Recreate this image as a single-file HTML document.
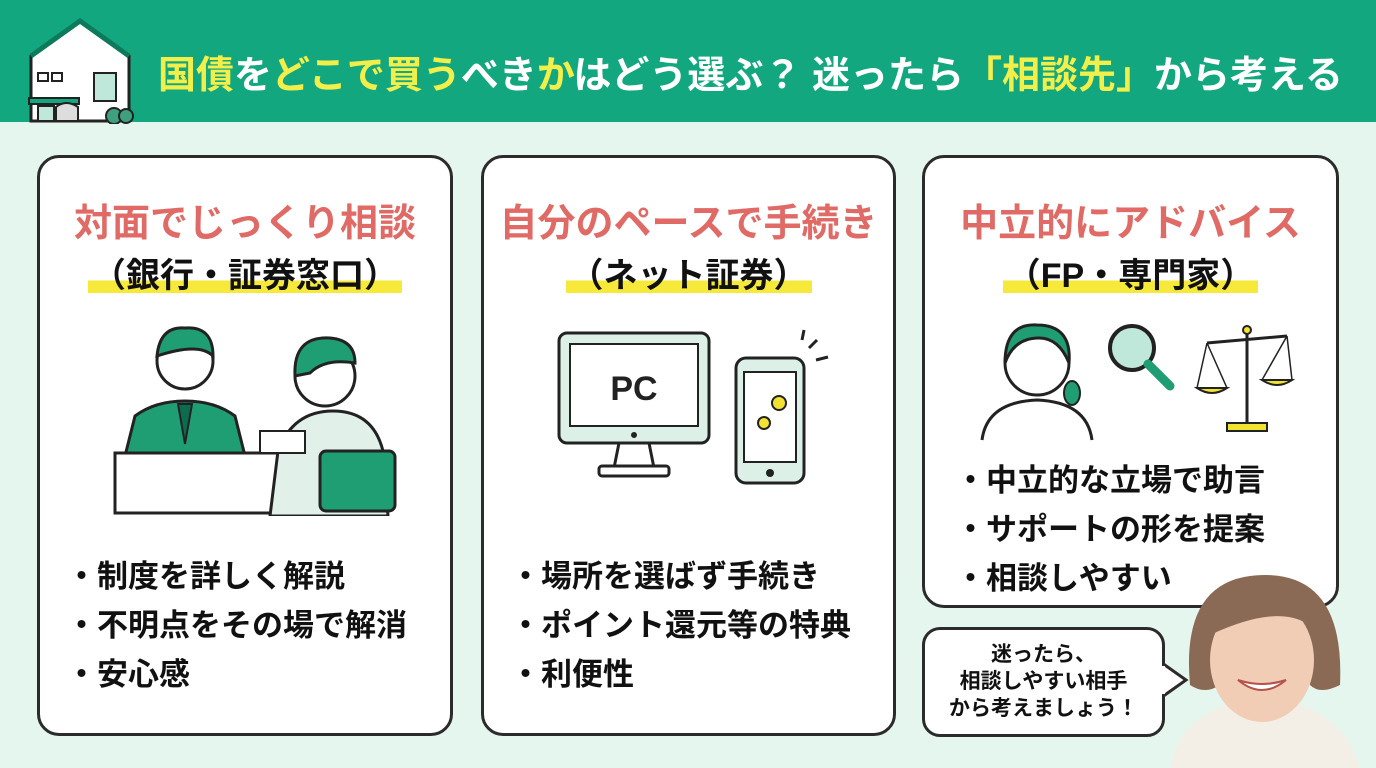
<!DOCTYPE html>
<html><head><meta charset="utf-8"><style>
*{margin:0;padding:0;box-sizing:border-box}
body{width:1376px;height:768px;overflow:hidden;background:#e5f6ee;font-family:"Liberation Sans","Noto Sans CJK JP",sans-serif;position:relative}
.hdr{position:absolute;left:0;top:0;width:1376px;height:122px;background:#12a77e}
.ttl{position:absolute;left:158px;top:44px;font-size:38px;font-weight:bold;color:#fff;white-space:nowrap;letter-spacing:0px}
.y{color:#f2ef4a}
.card{position:absolute;background:#fff;border:3px solid #2b2b2b;border-radius:22px}
.h1{position:absolute;left:0;width:100%;text-align:center;color:#e06a66;font-size:38px;font-weight:bold}
.h2{position:absolute;left:0;width:100%;text-align:center;color:#111;font-size:34px;font-weight:bold}
.h2 span{background:linear-gradient(transparent 62%,#f6e93a 62%,#f6e93a 95%,transparent 95%);padding:0 4px}
.bl{position:absolute;font-size:31px;font-weight:bold;color:#111;line-height:49px;white-space:nowrap}
.bub{position:absolute;left:922px;top:627px;width:243px;height:110px;background:#fff;border:3px solid #2b2b2b;border-radius:18px;text-align:center;font-size:21px;font-weight:bold;line-height:27px;padding-top:11px;color:#111}
</style></head><body>
<div class="hdr"></div>
<svg style="position:absolute;left:26px;top:18px" width="112" height="106" viewBox="0 0 112 106">
<polygon points="5,38 54,3 103,38 103,103 5,103" fill="#fff" stroke="#222" stroke-width="3"/>
<polyline points="5,38 54,3 103,38" fill="none" stroke="#0e7a5c" stroke-width="5"/>
<rect x="12" y="55" width="10" height="8" fill="none" stroke="#222" stroke-width="2"/><rect x="26" y="55" width="10" height="8" fill="none" stroke="#222" stroke-width="2"/>
<rect x="68" y="55" width="22" height="28" fill="#bfe8da" stroke="#222" stroke-width="2"/>
<rect x="3" y="80" width="50" height="6" fill="#12a77e" stroke="#222" stroke-width="2"/>
<rect x="12" y="88" width="16" height="15" fill="#bfe8da" stroke="#222" stroke-width="2"/>
<path d="M30,103 v-14 q10,-8 22,0 v14z" fill="#ddd" stroke="#222" stroke-width="2"/>
<circle cx="88" cy="98" r="8" fill="#3fa07f" stroke="#222" stroke-width="2"/><circle cx="100" cy="98" r="7" fill="#3fa07f" stroke="#222" stroke-width="2"/>
</svg>
<div class="ttl"><span class="y">国債</span>を<span class="y">どこで買う</span>べき<span class="y">か</span>はどう選ぶ？ 迷ったら<span class="y">「相談先」</span>から考える</div>

<div class="card" style="left:37px;top:155px;width:416px;height:581px">
<div class="h1" style="top:34px">対面でじっくり相談</div>
<div class="h2" style="top:90px"><span>（銀行・証券窓口）</span></div>
<svg style="position:absolute;left:70px;top:158px" width="290" height="200" viewBox="0 0 290 200">
<path d="M15,140 l10,-40 q20,-15 50,-15 q30,0 50,15 l10,40z" fill="#1f9e74" stroke="#222" stroke-width="3"/>
<circle cx="75" cy="45" r="28" fill="#fff" stroke="#222" stroke-width="3"/>
<path d="M47,40 q3,-30 28,-28 q28,-2 28,28 q-14,-14 -56,0z" fill="#1f9e74" stroke="#222" stroke-width="3"/>
<path d="M68,88 l7,40 l7,-40z" fill="#0d6b4e" stroke="#222" stroke-width="2"/>
<rect x="5" y="137" width="170" height="60" fill="#fff" stroke="#222" stroke-width="3"/>
<path d="M160,200 l8,-65 q15,-40 55,-40 q40,0 50,40 l5,65z" fill="#e1f1ea" stroke="#222" stroke-width="3"/>
<circle cx="215" cy="60" r="30" fill="#fff" stroke="#222" stroke-width="3"/>
<path d="M185,60 q-2,-40 35,-38 q25,2 25,25 q-30,-5 -45,10z" fill="#1f9e74" stroke="#222" stroke-width="3"/>
<rect x="210" y="135" width="75" height="60" rx="6" fill="#1f9e74" stroke="#222" stroke-width="3"/>
<rect x="150" y="115" width="45" height="22" fill="#fff" stroke="#222" stroke-width="2"/>
</svg>
<div class="bl" style="left:26px;top:394px">・制度を詳しく解説<br>・不明点をその場で解消<br>・安心感</div>
</div>

<div class="card" style="left:481px;top:155px;width:415px;height:581px">
<div class="h1" style="top:34px">自分のペースで手続き</div>
<div class="h2" style="top:90px"><span>（ネット証券）</span></div>
<svg style="position:absolute;left:70px;top:170px" width="280" height="160" viewBox="0 0 280 160">
<rect x="5" y="5" width="150" height="110" rx="8" fill="#dcf0e8" stroke="#222" stroke-width="3"/>
<rect x="16" y="16" width="128" height="82" fill="#fff" stroke="#222" stroke-width="2"/>
<text x="80" y="72" text-anchor="middle" font-size="34" font-weight="bold" fill="#222" font-family="Liberation Sans">PC</text>
<circle cx="80" cy="107" r="3" fill="#222"/>
<path d="M65,115 l-5,25 h40 l-5,-25z" fill="#fff" stroke="#222" stroke-width="3"/>
<rect x="45" y="138" width="70" height="10" rx="3" fill="#fff" stroke="#222" stroke-width="3"/>
<rect x="182" y="30" width="68" height="125" rx="10" fill="#dcf0e8" stroke="#222" stroke-width="3"/>
<rect x="190" y="44" width="52" height="90" fill="#fff" stroke="#222" stroke-width="2"/>
<circle cx="216" cy="145" r="4" fill="#222"/>
<circle cx="225" cy="75" r="7" fill="#f2e232" stroke="#222" stroke-width="2"/><circle cx="210" cy="95" r="6" fill="#f2e232" stroke="#222" stroke-width="2"/>
<path d="M255,20 l8,-8 M262,32 l12,-3 M248,12 l2,-10" stroke="#222" stroke-width="3"/>
</svg>
<div class="bl" style="left:26px;top:394px">・場所を選ばず手続き<br>・ポイント還元等の特典<br>・利便性</div>
</div>

<div class="card" style="left:922px;top:155px;width:417px;height:453px">
<div class="h1" style="top:34px">中立的にアドバイス</div>
<div class="h2" style="top:90px"><span>（FP・専門家）</span></div>
<svg style="position:absolute;left:52px;top:160px" width="330" height="125" viewBox="0 0 330 125">
<circle cx="60" cy="45" r="32" fill="#fff" stroke="#222" stroke-width="3"/>
<path d="M28,45 q0,-40 32,-38 q35,0 32,38 q-10,-25 -30,-25 q-25,0 -34,25z" fill="#1f9e74" stroke="#222" stroke-width="3"/>
<ellipse cx="95" cy="75" rx="8" ry="12" fill="#1f9e74" stroke="#222" stroke-width="2"/>
<path d="M5,122 q5,-38 55,-40 q50,2 55,40" fill="#fff" stroke="#222" stroke-width="3"/>
<circle cx="155" cy="30" r="22" fill="#bfe8da" stroke="#222" stroke-width="4"/>
<path d="M171,46 l22,22" stroke="#1f9e74" stroke-width="9" stroke-linecap="round"/>
<line x1="270" y1="10" x2="270" y2="105" stroke="#222" stroke-width="3"/>
<line x1="230" y1="25" x2="310" y2="18" stroke="#222" stroke-width="3"/>
<path d="M220,70 q15,10 30,0z M285,62 q15,10 30,0z" fill="#f2e232" stroke="#222" stroke-width="2"/>
<path d="M230,25 l-10,45 M230,25 l20,45 M310,18 l-25,44 M310,18 l5,44" stroke="#222" stroke-width="1.5"/>
<rect x="250" y="105" width="40" height="8" fill="#f2e232" stroke="#222" stroke-width="2"/>
<circle cx="270" cy="12" r="4" fill="#f2e232" stroke="#222" stroke-width="2"/>
</svg>
<div class="bl" style="left:30px;top:298px">・中立的な立場で助言<br>・サポートの形を提案<br>・相談しやすい</div>
</div>

<div class="bub">迷ったら、<br>相談しやすい相手<br>から考えましょう！</div>
<svg style="position:absolute;left:1162px;top:660px" width="28" height="40"><polygon points="0,3 24,20 0,37" fill="#fff" stroke="#2b2b2b" stroke-width="3"/><rect x="0" y="6" width="3" height="28" fill="#fff"/></svg>
<svg style="position:absolute;left:1150px;top:575px" width="226" height="193" viewBox="0 0 226 193">
<path d="M20,193 q10,-60 90,-70 q80,5 100,70z" fill="#f4efe6"/>
<path d="M40,110 q-10,-110 75,-110 q80,0 75,110 q-20,10 -30,0 l-5,-60 h-80 l-5,60 q-15,10 -30,0z" fill="#8a6a55"/>
<ellipse cx="112" cy="85" rx="52" ry="62" fill="#f1cdb5"/>
<path d="M60,60 q10,-50 55,-50 q45,0 50,45 q-30,-30 -105,5z" fill="#8a6a55"/>
<path d="M88,105 q24,20 48,0 q-24,8 -48,0z" fill="#fff" stroke="#b5524b" stroke-width="2"/>
</svg>
</body></html>
